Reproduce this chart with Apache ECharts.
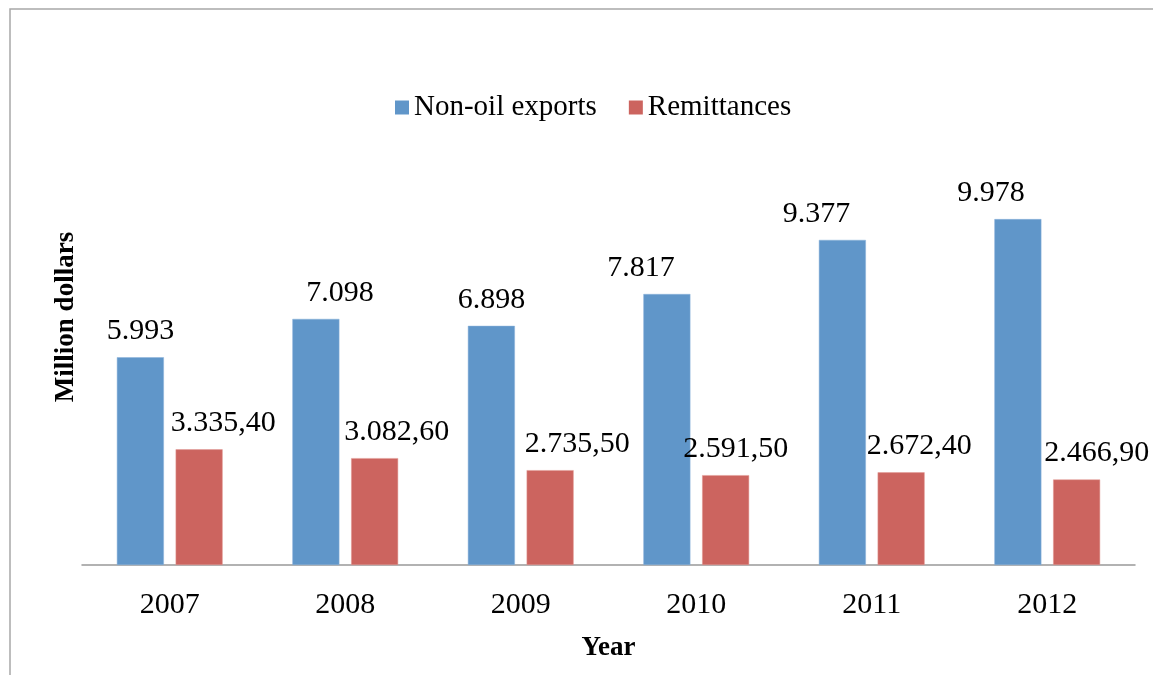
<!DOCTYPE html>
<html lang="en">
<head>
    <meta charset="UTF-8"/>
    <title>Non-oil exports and remittances</title>
    <script src="https://cdn.jsdelivr.net/npm/echarts@6/dist/echarts.min.js"></script>
</head>
<body style="margin:0">
<div id="main" style="width: 1153px;height:675px;"></div>
<script type="text/javascript">
    // data (million dollars)
    var years = ['2007', '2008', '2009', '2010', '2011', '2012'];
    var nonOilExports = [5993, 7098, 6898, 7817, 9377, 9978];
    var remittances = [3335.4, 3082.6, 2735.5, 2591.5, 2672.4, 2466.9];

    // horizontal nudges of the value labels, as placed in the original
    var exportLabelShift = [0, 24, 0, -26, -26, -27];
    var remitLabelShift = [24, 22, 27, 10, 18, 20];

    var serif = '"Liberation Serif", "DejaVu Serif", serif';

    // 5993 -> "5.993", 3335.4 -> "3.335,40"
    function fmt(v, decimals) {
        var parts = v.toFixed(decimals).split('.');
        var intPart = parts[0].replace(/\B(?=(\d{3})+(?!\d))/g, '.');
        return decimals ? intPart + ',' + parts[1] : intPart;
    }

    function withLabels(values, shifts, decimals) {
        return values.map(function (v, i) {
            return {
                value: v,
                label: { offset: [shifts[i], 0], formatter: fmt(v, decimals) }
            };
        });
    }

    var myChart = echarts.init(document.getElementById('main'));

    var option = {
        backgroundColor: '#fff',
        animation: false,
        graphic: [
            {
                type: 'rect',
                shape: { x: 10, y: 9, width: 1160, height: 700 },
                style: { fill: 'none', stroke: '#a8a8a8', lineWidth: 1.5 },
                silent: true
            },
            {
                type: 'text',
                x: 66,
                y: 317,
                rotation: Math.PI / 2,
                style: {
                    text: 'Million dollars',
                    font: 'bold 27px ' + serif,
                    fill: '#000',
                    align: 'center',
                    verticalAlign: 'middle'
                }
            }
        ],
        legend: {
            left: 390,
            top: 88,
            itemWidth: 14,
            itemHeight: 14,
            itemGap: 32,
            icon: 'rect',
            itemStyle: { borderWidth: 0 },
            textStyle: { fontFamily: serif, fontSize: 29, color: '#000' },
            data: ['Non-oil exports', 'Remittances']
        },
        grid: { left: 82, right: 18, top: 149, bottom: 110 },
        xAxis: {
            type: 'category',
            data: years,
            name: 'Year',
            nameLocation: 'middle',
            nameGap: 70,
            nameTextStyle: { fontFamily: serif, fontSize: 27, fontWeight: 'bold', color: '#000' },
            axisLine: { lineStyle: { color: '#999', width: 1.5 } },
            axisTick: { show: false },
            axisLabel: { fontFamily: serif, fontSize: 30, color: '#000', margin: 25 }
        },
        yAxis: {
            type: 'value',
            min: 0,
            max: 12000,
            interval: 2000,
            axisLine: { show: false },
            axisTick: { show: false },
            axisLabel: { show: false },
            splitLine: { show: false }
        },
        series: [
            {
                name: 'Non-oil exports',
                type: 'bar',
                barWidth: 47,
                barGap: '25%',
                itemStyle: { color: '#6096c9', borderColor: '#8ab2da', borderWidth: 0.5 },
                label: {
                    show: true,
                    position: 'top',
                    distance: 11,
                    fontFamily: serif,
                    fontSize: 30,
                    color: '#000'
                },
                data: withLabels(nonOilExports, exportLabelShift, 0)
            },
            {
                name: 'Remittances',
                type: 'bar',
                barWidth: 47,
                barGap: '25%',
                itemStyle: { color: '#cc645f', borderColor: '#e29a96', borderWidth: 0.5 },
                label: {
                    show: true,
                    position: 'top',
                    distance: 11,
                    fontFamily: serif,
                    fontSize: 30,
                    color: '#000'
                },
                data: withLabels(remittances, remitLabelShift, 2)
            }
        ]
    };

    myChart.setOption(option);
</script>
</body>
</html>
